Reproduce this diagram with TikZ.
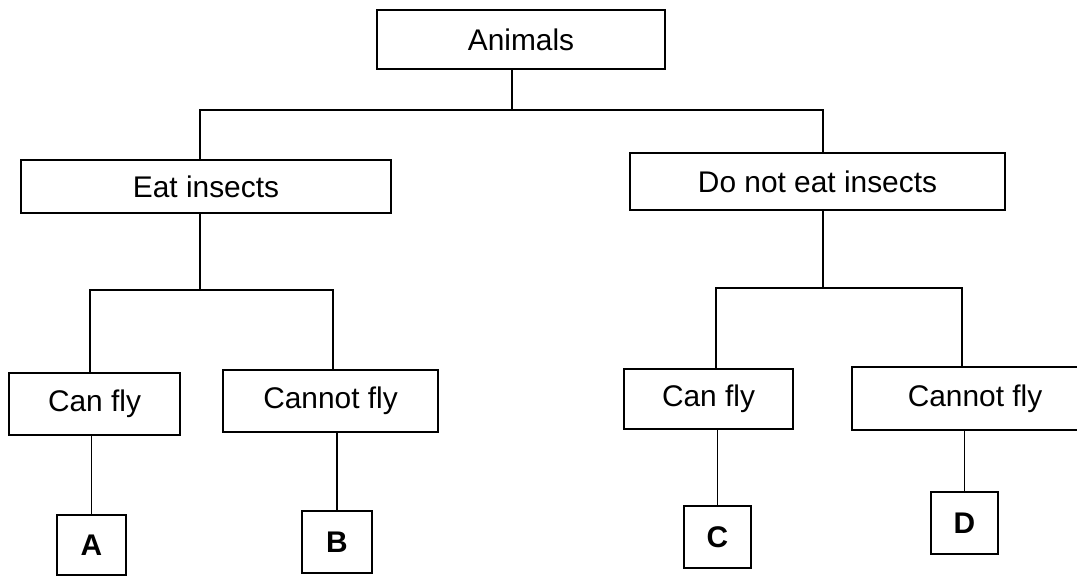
\documentclass[tikz,border=0pt]{standalone}
\usepackage{fontspec}
\setmainfont{Liberation Sans}
\usetikzlibrary{positioning}

\tikzset{
    box/.style={draw, line width=1pt, inner sep=0pt, font=\fontsize{17}{20}\selectfont},
    leaf/.style={box, font=\fontsize{17}{20}\selectfont\bfseries},
    link/.style={line width=1pt}
}

\begin{document}
\begin{tikzpicture}[x=0.02cm, y=-0.02cm]
\useasboundingbox (0,0) rectangle (1077,577);
\clip (0,0) rectangle (1077,577);

\node[box, minimum width=5.76cm, minimum height=1.18cm] (animals) at (521,39.5) {Animals};
\node[box, minimum width=7.40cm, minimum height=1.06cm] (eat) at (206,186.5) {Eat insects};
\node[box, minimum width=7.50cm, minimum height=1.14cm] (noteat) at (817.5,181.5) {Do not eat insects};

\node[box, minimum width=3.42cm, minimum height=1.24cm] (canL) at (94.5,404) {Can fly};
\node[box, minimum width=4.30cm, minimum height=1.24cm] (cannotL) at (330.5,401) {Cannot fly};
\node[box, minimum width=3.38cm, minimum height=1.20cm] (canR) at (708.5,399) {Can fly};
\node[box, minimum width=4.92cm, minimum height=1.26cm] (cannotR) at (975,398.5) {Cannot fly};

\node[leaf, minimum width=1.38cm, minimum height=1.20cm] (boxA) at (91.5,545) {A};
\node[leaf, minimum width=1.40cm, minimum height=1.24cm] (boxB) at (337,542) {B};
\node[leaf, minimum width=1.34cm, minimum height=1.24cm] (boxC) at (717.5,537) {C};
\node[leaf, minimum width=1.34cm, minimum height=1.24cm] (boxD) at (964.5,523) {D};

% junctions
\coordinate (jTop) at (512,110);
\coordinate (jTopL) at (200,110);
\coordinate (jTopR) at (823,110);
\coordinate (jEat) at (200,290);
\coordinate (jEatL) at (90,290);
\coordinate (jEatR) at (333,290);
\coordinate (jNot) at (823,288);
\coordinate (jNotL) at (716,288);
\coordinate (jNotR) at (962,288);

\draw[link] (animals.south -| jTop) -- (jTop);
\draw[link] (eat.north -| jTopL) -- (jTopL) -- (jTopR) -- (noteat.north -| jTopR);

\draw[link] (eat.south -| jEat) -- (jEat);
\draw[link] (canL.north -| jEatL) -- (jEatL) -- (jEatR) -- (cannotL.north -| jEatR);

\draw[link] (noteat.south -| jNot) -- (jNot);
\draw[link] (canR.north -| jNotL) -- (jNotL) -- (jNotR) -- (cannotR.north -| jNotR);

\foreach \u/\v in
{   canL/boxA,
    cannotL/boxB,
    canR/boxC,
    cannotR/boxD}
{
    \draw[link] (\v.north |- \u.south) -- (\v.north);
};

\end{tikzpicture}
\end{document}
